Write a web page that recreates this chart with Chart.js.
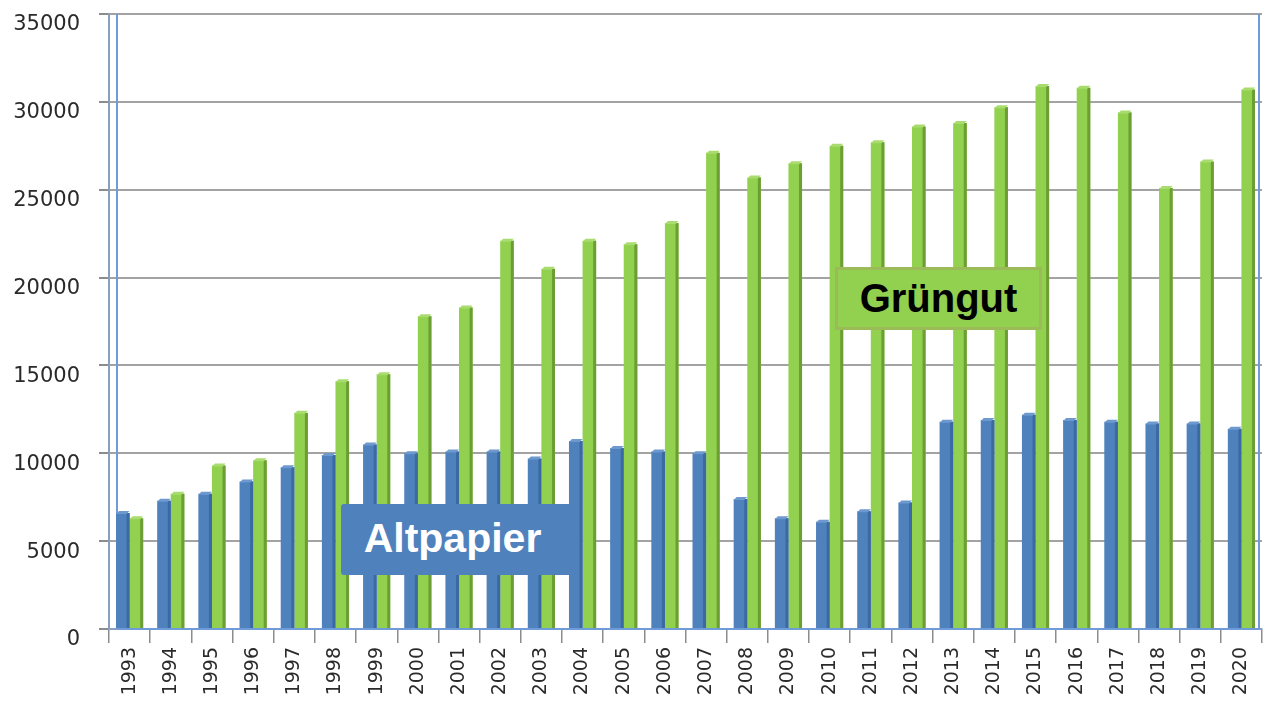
<!DOCTYPE html>
<html>
<head>
<meta charset="utf-8">
<script src="https://cdn.jsdelivr.net/npm/chart.js@4"></script>
<style>
  html, body { margin: 0; padding: 0; background: #fff; }
  #wrap { position: relative; width: 1276px; height: 713px; }
  .lbl { position: absolute; font-family: "Liberation Sans", Arial, sans-serif; font-weight: bold;
         display: flex; align-items: center; justify-content: center; box-sizing: border-box; }
  #alt { left: 341px; top: 504px; width: 237px; height: 71px; background: #4f81bd; color: #fff;
         font-size: 41px; border-radius: 3px; padding-right: 14px; padding-bottom: 2px; }
  #gru { left: 835px; top: 267px; width: 207px; height: 63px; background: #92d050; color: #000;
         font-size: 40px; border: 3px solid #9bbb59; }
</style>
</head>
<body>
<div id="wrap">
  <canvas id="c" width="1276" height="713"></canvas>
  <div class="lbl" id="alt">Altpapier</div>
  <div class="lbl" id="gru">Grüngut</div>
</div>
<script>
const years = ["1993","1994","1995","1996","1997","1998","1999","2000","2001","2002","2003","2004","2005","2006","2007","2008","2009","2010","2011","2012","2013","2014","2015","2016","2017","2018","2019","2020"];
const altpapier = [6600,7300,7700,8400,9200,9900,10500,10000,10100,10100,9700,10700,10300,10100,10000,7400,6300,6100,6700,7200,11800,11900,12200,11900,11800,11700,11700,11400];
const gruengut = [6300,7700,9300,9600,12300,14100,14500,17800,18300,22100,20500,22100,21900,23100,27100,25700,26500,27500,27700,28600,28800,29700,30900,30800,29400,25100,26600,30700];
const yTicks = [0,5000,10000,15000,20000,25000,30000,35000];

const sideColors = ["#3b6aa3", "#6c9e33"];
const capColors = ["#6d99cf", "#a9dc6e"];

const bar3d = {
  id: "bar3d",
  afterDatasetsDraw(chart) {
    const ctx = chart.ctx;
    chart.data.datasets.forEach((ds, di) => {
      const meta = chart.getDatasetMeta(di);
      meta.data.forEach(el => {
        const w = el.width, x0 = el.x - w / 2, x1 = el.x + w / 2;
        ctx.save();
        ctx.fillStyle = sideColors[di];
        ctx.fillRect(x1 - 3, el.y, 3, el.base - el.y);
        ctx.fillStyle = capColors[di];
        ctx.beginPath();
        ctx.moveTo(x0, el.y + 1);
        ctx.lineTo(x0 + 3, el.y - 2);
        ctx.lineTo(x1, el.y - 2);
        ctx.lineTo(x1 - 3, el.y + 1);
        ctx.closePath();
        ctx.fill();
        ctx.restore();
      });
    });
  },
  beforeDatasetsDraw(chart) {
    const { ctx, chartArea: a } = chart;
    ctx.save();
    ctx.strokeStyle = "#6f9bd8";
    ctx.lineWidth = 2;
    ctx.beginPath();
    ctx.moveTo(a.left + 8, a.top); ctx.lineTo(a.left + 8, a.bottom);
    ctx.moveTo(a.right - 3, a.top); ctx.lineTo(a.right - 3, a.bottom);
    ctx.moveTo(a.left + 8, a.bottom); ctx.lineTo(a.right - 3, a.bottom);
    ctx.stroke();
    ctx.restore();
  }
};

new Chart(document.getElementById("c"), {
  type: "bar",
  data: {
    labels: years,
    datasets: [
      { label: "Altpapier", data: altpapier, backgroundColor: "#4f81bd",
        categoryPercentage: 0.66, barPercentage: 1.0 },
      { label: "Grüngut", data: gruengut, backgroundColor: "#92d050",
        categoryPercentage: 0.66, barPercentage: 1.0 }
    ]
  },
  options: {
    responsive: false,
    animation: false,
    events: [],
    layout: { padding: { top: 14, right: 14, left: 0, bottom: 0 } },
    plugins: { legend: { display: false }, tooltip: { enabled: false } },
    scales: {
      x: {
        offset: true,
        grid: { display: true, drawOnChartArea: false, offset: true, color: "#8c8c8c",
                tickLength: 14, lineWidth: 1.5 },
        border: { display: true, color: "#8a9fbf", width: 2 },
        ticks: { autoSkip: false, maxRotation: 90, minRotation: 90, padding: 4,
                 color: "#2a2a2a", font: { family: "DejaVu Sans", size: 19 } },
        afterFit(s) { s.height = 84; s.paddingLeft = 0; s.paddingRight = 0; }
      },
      y: {
        min: 0, max: 35000,
        afterBuildTicks(s) { s.ticks = yTicks.map(v => ({ value: v })); },
        grid: { color: "#a3a3a3", lineWidth: 2, tickLength: 10, tickColor: "#8c8c8c" },
        border: { display: true, color: "#8a9fbf", width: 2 },
        ticks: { padding: 19, labelOffset: 11, color: "#2a2a2a",
                 callback: v => String(v),
                 font: { family: "DejaVu Sans", size: 21 } },
        afterFit(s) { s.width = 109; s.paddingTop = 0; s.paddingBottom = 0; }
      }
    }
  },
  plugins: [bar3d]
});
</script>
</body>
</html>
